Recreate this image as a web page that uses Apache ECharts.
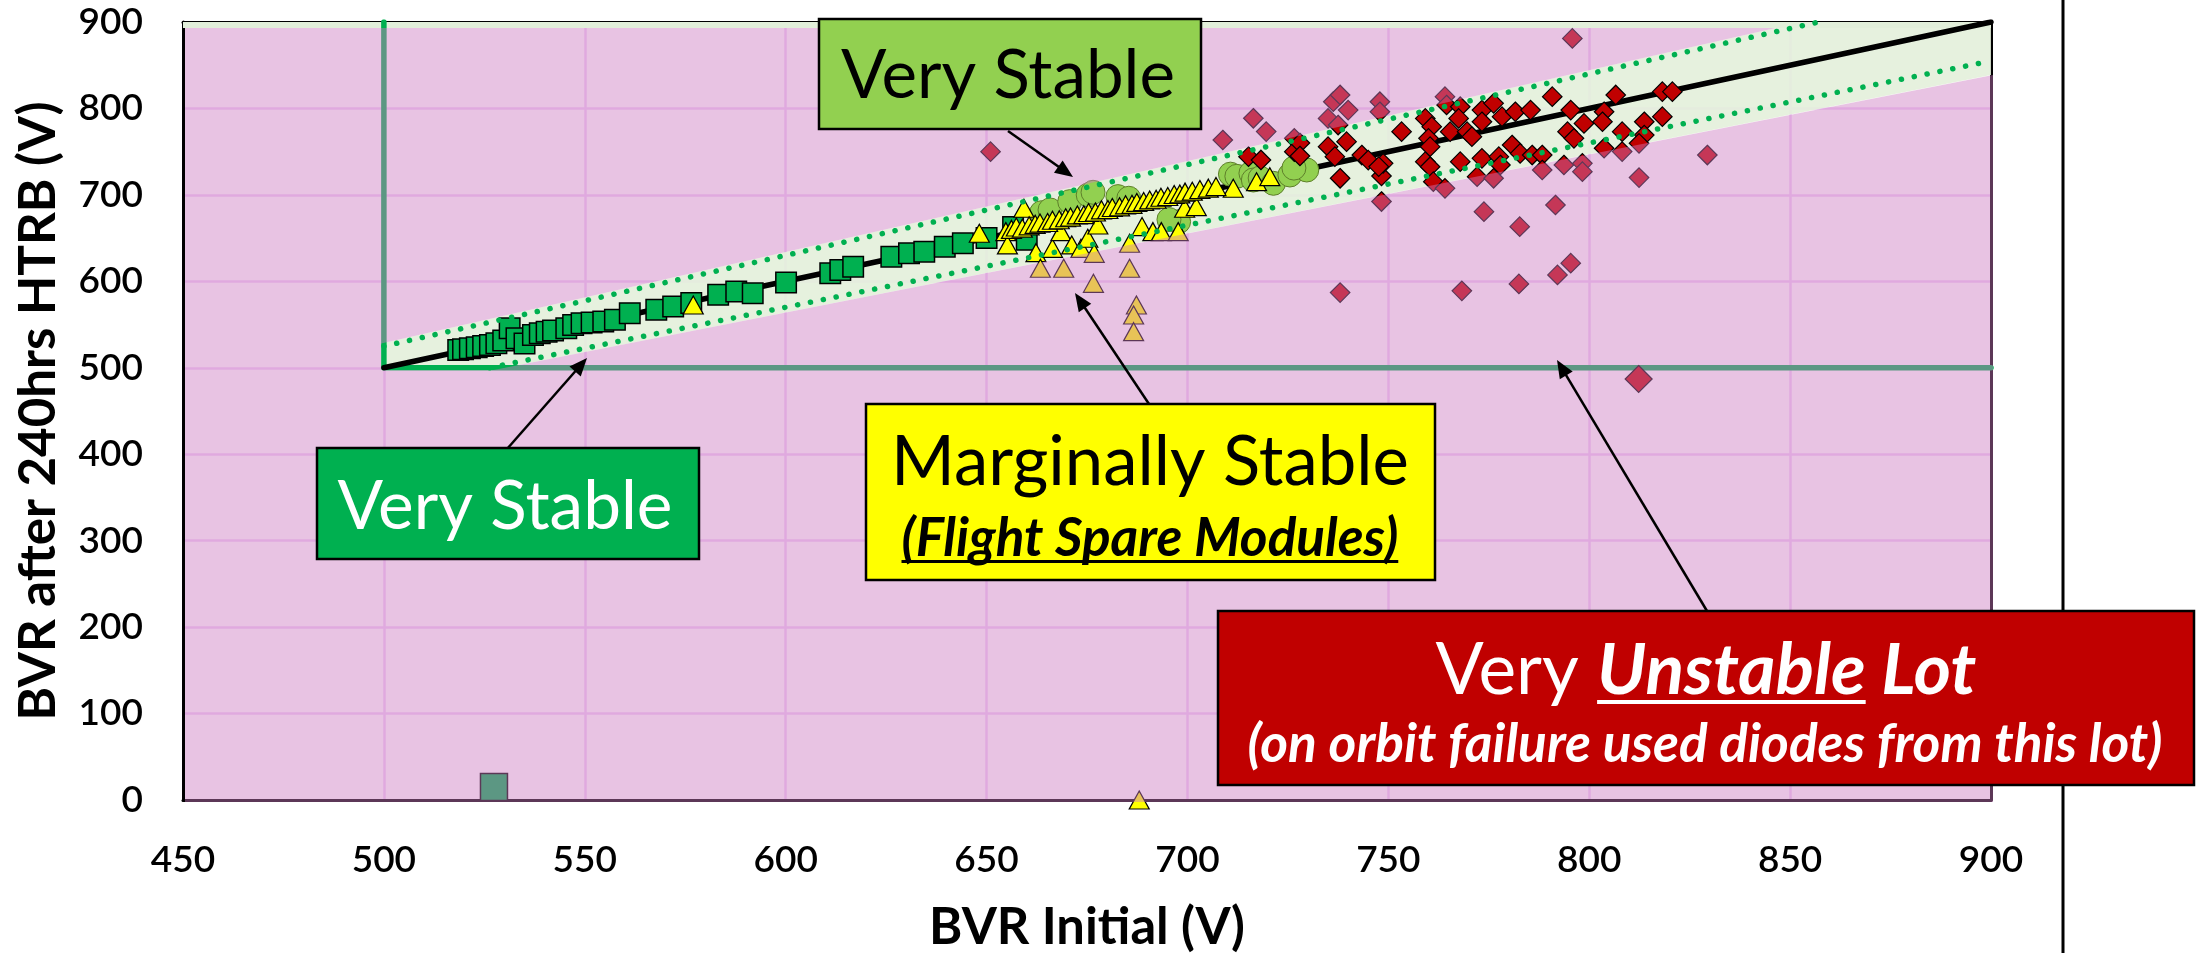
<!DOCTYPE html>
<html><head><meta charset="utf-8">
<script src="https://cdn.jsdelivr.net/npm/echarts@6/dist/echarts.min.js"></script>
<style>html,body{margin:0;padding:0;background:#fff;}#c{width:2200px;height:953px;}</style>
</head><body><div id="c"></div>
<script>
// ---------- data ----------
const xRange = [450, 900], xStep = 50;
const yRange = [0, 900], yStep = 100;
const xTitle = 'BVR Initial (V)';
const yTitle = 'BVR after 240hrs HTRB (V)';

const squares = [
 [518.5,520.6],[519.7,521.4],[521.4,522.6],[523.1,523.7],[524.7,525.3],[526.4,526.4],[528.0,528.4],
 [529.7,531.5],[531.3,545.7],[533.0,534.1],[535.0,528.0],[537.1,538.0],[538.8,539.9],[540.5,541.8],
 [542.1,543.0],[545.4,545.7],[547.1,549.6],[549.2,551.5],[551.7,552.3],[554.6,553.5],[557.5,555.5],
 [561.2,563.2],[567.8,567.1],[572.0,571.0],[576.5,574.8],[583.2,584.4],[587.7,588.2],[591.8,586.3],
 [600.1,598.6],[611.1,609.3],[613.6,613.1],[616.8,617.0],[626.3,628.5],[630.7,632.4],[634.5,634.3],
 [639.6,640.1],[644.1,644.0],[650.0,650.0],[656.6,662.9],[660.0,648.0],[527.4,15]
];
const circles = [
 [663.7,679.4],[665.8,682.6],[670.7,692.2],[675.3,699.9],[676.5,703.0],[682.7,698.0],[685.4,696.1],
 [697.8,669.0],[695.4,671.5],[710.7,724.0],[712.3,721.5],[715.8,725.0],[716.4,717.2],[718.1,719.5],
 [721.4,713.4],[725.5,723.0],[729.7,728.8],[726.5,731.0]
];
const triangles = [
 [577.0,572.6],[648.2,655.6],[654.8,657.5],[655.2,642.1],[659.3,684.5],[662.3,633.2],[663.4,615.1],
 [666.4,638.2],[668.5,657.5],[669.2,615.1],[671.2,642.1],[673.5,638.2],[675.2,649.8],[676.8,632.4],
 [676.6,597.7],[677.7,665.2],[685.6,644.0],[685.6,615.1],[687.3,572.6],[686.6,561.1],[686.6,541.8],
 [688.7,663.3],[691.4,657.5],[693.5,657.5],[697.7,657.5],[699.3,684.5],[702.2,686.4],[711.4,707.7],
 [717.2,715.3],[720.5,721.1],[688.0,0],
 [656.2,660.1],[657.4,662.8],[658.9,661.5],[660.6,664.2],[662.1,665.9],[663.3,667.4],[665.2,668.1],
 [666.4,670.6],[668.1,671.2],[669.7,673.5],[670.9,674.3],[672.6,676.8],[674.2,677.1],[675.4,679.6],
 [677.1,680.2],[678.6,682.7],[680.2,683.1],[681.3,685.4],[683.1,686.2],[684.6,688.5],[686.2,689.1],
 [687.4,691.3],[689.1,692.4],[690.6,694.2],[692.2,695.0],[693.4,697.3],[695.1,698.2],[696.7,700.4],
 [698.1,701.1],[699.4,703.2],[701.2,704.3],[703.1,706.2],[705.2,707.8],[707.1,709.6]
];
const diamonds = [
 [651.0,750.0],[708.8,763.5],[716.4,788.6],[719.6,773.2],[715.2,744.2],[718.3,740.4],[726.6,765.4],
 [726.6,750.0],[728.0,760.0],[728.0,745.0],[735.0,788.5],[736.3,807.8],[738.0,815.6],[740.0,798.1],
 [737.5,780.8],[735.0,755.8],[739.6,761.6],[736.7,744.2],[743.4,746.1],[745.0,740.3],[738.0,719.2],
 [748.3,721.9],[748.3,692.3],[738.0,587.0],[747.9,807.8],[747.9,796.2],[748.7,736.5],[747.6,732.7],
 [753.3,773.1],[759.2,788.5],[760.8,778.9],[760.0,765.4],[760.4,755.8],[759.2,738.4],[760.4,732.6],
 [761.2,715.3],[764.1,707.6],[764.1,813.6],[764.5,804.0],[767.9,802.0],[767.5,788.5],[765.4,773.1],
 [767.9,738.4],[769.6,773.1],[770.8,767.4],[773.3,798.1],[773.3,784.6],[776.2,805.9],[778.3,790.5],
 [781.6,796.2],[785.4,798.1],[780.8,757.7],[782.8,748.0],[773.3,742.3],[772.1,721.1],[776.2,719.2],
 [777.5,744.2],[777.9,734.6],[785.8,746.1],[788.3,746.1],[788.3,728.8],[790.8,813.6],[795.4,798.1],
 [798.7,782.7],[794.6,773.1],[796.2,765.4],[793.7,734.6],[798.3,736.5],[798.3,726.9],[791.6,688.3],
 [773.8,680.6],[782.7,663.2],[795.4,621.0],[792.1,607.4],[782.5,597.0],[768.3,589.0],[806.6,815.6],
 [803.7,796.2],[803.3,784.6],[808.2,773.1],[803.7,754.0],[808.2,750.1],[813.7,784.6],[813.7,769.2],
 [812.4,759.6],[818.2,819.4],[820.7,819.4],[818.2,790.5],[812.4,720.0],[829.4,746.1],[795.8,881.0],
 [812.3,487.0]
];
// reference lines
const identityLine = [[500,500],[900,900]];
const upperDotted = [[500,525],[857.14,900]];
const lowerDotted = [[526.3,500],[900,855]];
const limitV = [[500,500],[500,900]];
const limitH = [[500,500],[900,500]];
// stable band (unshaded zone)
const bandPoly = [[499.3,497],[499.3,528],[853,900],[900,900],[900,838.7],[527,497]];

// ---------- helpers ----------
const FONT = 'Lato';
const cv = document.createElement('canvas').getContext('2d');
function measure(t, font){ cv.font = font; return cv.measureText(t).width; }
const fontStr = (r, fs) => `${r.i ? 'italic ' : ''}${r.b ? 'bold ' : ''}${fs}px ${FONT}`;

function textLine(runs, cx, capMid, targetW, color, uy, uh){
  const base = 100;
  let w = 0; runs.forEach(r => { w += measure(r.t, fontStr(r, base)); });
  const fs = base * targetW / w;
  let x = cx - targetW / 2;
  const y = capMid + 0.036 * fs;
  const els = [];
  runs.forEach(r => {
    const rw = measure(r.t, fontStr(r, fs));
    els.push({type:'text', x:x, y:y, z:102, silent:true,
      style:{text:r.t, fill:color, font:fontStr(r, fs), textAlign:'left', textVerticalAlign:'middle', verticalAlign:'middle'}});
    if (r.u) els.push({type:'rect', z:102, silent:true, shape:{x:x, y:uy, width:rw, height:uh}, style:{fill:color}});
    x += rw;
  });
  return els;
}
function box(x, y, w, h, fill){
  return {type:'rect', z:101, silent:true, shape:{x:x, y:y, width:w, height:h}, style:{fill:fill, stroke:'#000', lineWidth:2.5}};
}
function arrow(x1, y1, x2, y2){
  const dx = x2 - x1, dy = y2 - y1, L = Math.hypot(dx, dy), ux = dx / L, uy = dy / L, nx = -uy, ny = ux;
  const hl = 18, hw = 7.5;
  const bx = x2 - ux * hl, by = y2 - uy * hl;
  return [
    {type:'line', z:100, silent:true, shape:{x1:x1, y1:y1, x2:bx + ux * 3, y2:by + uy * 3}, style:{stroke:'#000', lineWidth:2.5}},
    {type:'polygon', z:100, silent:true, shape:{points:[[x2, y2],[bx + nx * hw, by + ny * hw],[bx - nx * hw, by - ny * hw]]}, style:{fill:'#000'}}
  ];
}

// ---------- chart ----------
const chart = echarts.init(document.getElementById('c'), null, {renderer:'canvas', width:2200, height:953});

const fsY = 52 * 619 / measure(yTitle, 'bold 52px ' + FONT);
const fsX = 52 * 316 / measure(xTitle, 'bold 52px ' + FONT);
const gapY = 146 - 0.536 * fsY;
const gapX = 126 - 0.464 * fsX;

const GRIDC = '#F0D0F8';
const OVERLAY = 'rgba(204,122,193,0.45)';

function bandRender(params, api){
  const pts = bandPoly.map(p => api.coord(p));
  const tl = api.coord([xRange[0], yRange[1]]), br = api.coord([xRange[1], yRange[0]]);
  return {type:'group', children:[
    {type:'polygon', shape:{points:pts}, style:{fill:'rgba(226,239,218,0.88)'}},
    {type:'rect', shape:{x:tl[0], y:tl[1], width:br[0] - tl[0], height:6}, style:{fill:'#E2EFDA'}}
  ]};
}
function overlayRender(params, api){
  const tl = api.coord([xRange[0], yRange[1]]), br = api.coord([xRange[1], yRange[0]]);
  const L = tl[0] + 2, T = tl[1] + 6, R = br[0] + 2, B = br[1] + 2;
  const c = bandPoly.map(p => api.coord(p));
  const a = c[1], b = c[2];
  const t = (T - a[1]) / (b[1] - a[1]);
  const cross = [a[0] + t * (b[0] - a[0]), T];
  const pts = [[L, B], [R, B], [R, c[4][1]], c[5], c[0], c[1], cross, [L, T]];
  return {type:'polygon', shape:{points:pts}, style:{fill:OVERLAY}};
}

const lineSeries = (data, color, width, z, type) => ({
  type:'line', data:data, z:z, symbol:'none', silent:true, animation:false,
  lineStyle:{color:color, width:width, type:type || 'solid', cap:'round'}
});

const option = {
  animation:false,
  backgroundColor:'#ffffff',
  grid:{left:183, top:22, width:1808, height:778, containLabel:false, outerBoundsMode:'none', show:true, backgroundColor:'#ffffff', borderWidth:0},
  xAxis:[
    {type:'value', min:xRange[0], max:xRange[1], interval:xStep, position:'bottom',
     axisLine:{show:true, onZero:false, lineStyle:{color:'#000', width:3}},
     axisTick:{show:false},
     axisLabel:{color:'#000', fontFamily:FONT, fontWeight:600, fontSize:37, margin:42},
     splitLine:{show:true, lineStyle:{color:GRIDC, width:2.5}},
     name:xTitle, nameLocation:'middle', nameGap:gapX, nameMoveOverlap:false,
     nameTextStyle:{color:'#000', fontFamily:FONT, fontWeight:'bold', fontSize:fsX}},
    {type:'value', min:xRange[0], max:xRange[1], interval:xStep, position:'top',
     axisLine:{show:true, onZero:false, lineStyle:{color:'#000', width:3}},
     axisTick:{show:false}, axisLabel:{show:false}, splitLine:{show:false}}
  ],
  yAxis:[
    {type:'value', min:yRange[0], max:yRange[1], interval:yStep, position:'left',
     axisLine:{show:true, onZero:false, lineStyle:{color:'#000', width:3}},
     axisTick:{show:false},
     axisLabel:{color:'#000', fontFamily:FONT, fontWeight:600, fontSize:37, margin:40},
     splitLine:{show:true, lineStyle:{color:GRIDC, width:2.5}},
     name:yTitle, nameLocation:'middle', nameGap:gapY, nameMoveOverlap:false,
     nameTextStyle:{color:'#000', fontFamily:FONT, fontWeight:'bold', fontSize:fsY}},
    {type:'value', min:yRange[0], max:yRange[1], interval:yStep, position:'right',
     axisLine:{show:true, onZero:false, lineStyle:{color:'#000', width:3}},
     axisTick:{show:false}, axisLabel:{show:false}, splitLine:{show:false}}
  ],
  series:[
    {type:'custom', z:1, silent:true, clip:false, data:[[xRange[0], yRange[0]]], renderItem:bandRender},
    lineSeries(limitV, '#00B050', 5.5, 2),
    lineSeries(limitH, '#00B050', 5.5, 2),
    lineSeries(identityLine, '#000000', 5.5, 3),
    {type:'scatter', name:'Very Stable lot', data:squares, z:4, clip:false, symbol:'rect',
     symbolSize:v => v[1] < 100 ? 27 : 20.5,
     itemStyle:{color:'#00B050', borderColor:'#000', borderWidth:1.5, opacity:1}},
    {type:'scatter', name:'Very Stable lot 2', data:circles, z:5, clip:false, symbol:'circle', symbolSize:24,
     itemStyle:{color:'#92D050', borderColor:'#5E7F2A', borderWidth:1, opacity:1}},
    {type:'scatter', name:'Marginally Stable', data:triangles, z:6, clip:false, symbol:'triangle', symbolSize:[20,18],
     itemStyle:{color:'#FFFF00', borderColor:'#000', borderWidth:1.2, opacity:1}},
    {type:'scatter', name:'Very Unstable Lot', data:diamonds, z:7, clip:false, symbol:'diamond',
     symbolSize:v => v[1] < 500 ? 27 : 19.5,
     itemStyle:{color:'#C00000', borderColor:'#000', borderWidth:1.2, opacity:1}},
    {type:'custom', z:8, silent:true, clip:false, data:[[xRange[0], yRange[0]]], renderItem:overlayRender},
    lineSeries(upperDotted, '#00B050', 5.5, 9, [0.1, 13]),
    lineSeries(lowerDotted, '#00B050', 5.5, 9, [0.1, 13])
  ],
  graphic:[]
};

let g = [];
g.push({type:'line', z:99, silent:true, shape:{x1:2063, y1:0, x2:2063, y2:953}, style:{stroke:'#000', lineWidth:3}});
g = g.concat(arrow(1008, 131, 1073, 177));
g = g.concat(arrow(1149, 404, 1075, 293));
g = g.concat(arrow(507, 449, 587, 358));
g = g.concat(arrow(1707, 611, 1557, 360));
g.push(box(819, 19, 382, 110, '#92D050'));
g = g.concat(textLine([{t:'Very Stable'}], 1008, 74, 334, '#000'));
g.push(box(317, 448, 382, 111, '#00B050'));
g = g.concat(textLine([{t:'Very Stable'}], 505, 505, 335, '#fff'));
g.push(box(866, 404, 569, 176, '#FFFF00'));
g = g.concat(textLine([{t:'Marginally Stable'}], 1150, 460, 518, '#000'));
g = g.concat(textLine([{t:'(Flight Spare Modules)', b:1, i:1, u:1}], 1150, 537, 497, '#000', 560, 3));
g.push(box(1218, 611, 976, 174, '#C00000'));
g = g.concat(textLine([{t:'Very '},{t:'Unstable', b:1, i:1, u:1},{t:' ', b:1, i:1},{t:'Lot', b:1, i:1}], 1706, 668, 541, '#fff', 700, 4));
g = g.concat(textLine([{t:'(on orbit failure used diodes from this lot)', b:1, i:1}], 1705, 743, 915, '#fff'));
option.graphic = g;

chart.setOption(option);
</script>
</body></html>
